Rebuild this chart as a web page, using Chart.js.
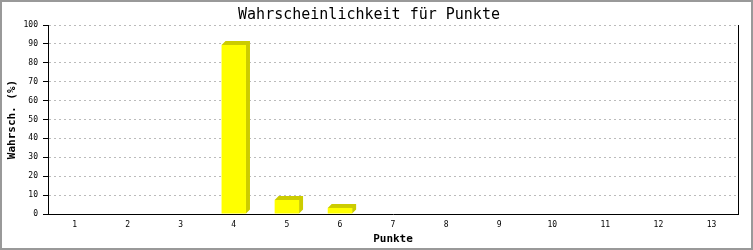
<!DOCTYPE html>
<html>
<head>
<meta charset="utf-8">
<script src="https://cdn.jsdelivr.net/npm/chart.js@4"></script>
<style>
  body { margin: 0; background: #fff; }
  canvas { display: block; }
</style>
</head>
<body>
<canvas id="punkteChart" width="753" height="250"></canvas>
<script>
// chart data
const punkte = ['1', '2', '3', '4', '5', '6', '7', '8', '9', '10', '11', '12', '13'];
const wahrscheinlichkeit = [0, 0, 0, 89.4, 7.4, 3.2, 0, 0, 0, 0, 0, 0, 0];
const yTicks = [0, 10, 20, 30, 40, 50, 60, 70, 80, 90, 100];

const mono = "'DejaVu Sans Mono', 'Liberation Mono', monospace";
const depth = 4;

// darker yellow side + top of the bars (fake 3d), drawn behind the bars
const barDepth = {
  id: 'barDepth',
  beforeDatasetsDraw(chart) {
    const ctx = chart.ctx;
    const meta = chart.getDatasetMeta(0);
    ctx.save();
    ctx.fillStyle = '#cccc00';
    meta.data.forEach(bar => {
      const { x, y, base, width } = bar.getProps(['x', 'y', 'base', 'width'], true);
      if (Math.abs(base - y) < 0.5) return;
      const left = x - width / 2;
      const right = x + width / 2;
      ctx.beginPath();
      ctx.moveTo(left, y);
      ctx.lineTo(left + depth, y - depth);
      ctx.lineTo(right + depth, y - depth);
      ctx.lineTo(right + depth, base - depth);
      ctx.lineTo(right, base);
      ctx.lineTo(right, y);
      ctx.closePath();
      ctx.fill();
    });
    ctx.restore();
  }
};

// right frame line and grey outer border
const frame = {
  id: 'frame',
  afterDraw(chart) {
    const { ctx, chartArea } = chart;
    ctx.save();
    ctx.strokeStyle = '#000';
    ctx.lineWidth = 1;
    ctx.beginPath();
    ctx.moveTo(Math.round(chartArea.right) + 0.5, chartArea.top);
    ctx.lineTo(Math.round(chartArea.right) + 0.5, chartArea.bottom);
    ctx.stroke();

    ctx.strokeStyle = '#999';
    ctx.lineWidth = 2;
    ctx.strokeRect(1, 1, chart.width - 2, chart.height - 2);
    ctx.restore();
  }
};

const ctx = document.getElementById('punkteChart').getContext('2d');
new Chart(ctx, {
  type: 'bar',
  data: {
    labels: punkte,
    datasets: [{
      label: 'Wahrscheinlichkeit',
      data: wahrscheinlichkeit,
      backgroundColor: '#ffff00',
      borderWidth: 0,
      barPercentage: 0.46,
      categoryPercentage: 1
    }]
  },
  options: {
    responsive: false,
    animation: false,
    devicePixelRatio: 1,
    layout: { padding: { left: 0, right: 15, top: 0, bottom: 0 } },
    plugins: {
      legend: { display: false },
      tooltip: { enabled: false },
      title: {
        display: true,
        text: 'Wahrscheinlichkeit für Punkte',
        color: '#000',
        font: { family: mono, size: 15, weight: 'normal', lineHeight: 1.2 },
        padding: { top: 6, bottom: 1 }
      }
    },
    scales: {
      x: {
        grid: { display: false, drawTicks: false },
        border: { display: true, color: '#000', width: 1 },
        ticks: { color: '#000', padding: 6, font: { family: mono, size: 8 }, maxRotation: 0 },
        title: {
          display: true,
          text: 'Punkte',
          color: '#000',
          font: { family: mono, size: 11, weight: 'bold', lineHeight: 1.2 },
          padding: { top: 0, bottom: 4 }
        },
        afterFit: scale => { scale.height = 36; }
      },
      y: {
        min: 0,
        max: 100,
        afterBuildTicks: scale => { scale.ticks = yTicks.map(v => ({ value: v })); },
        grid: {
          color: '#bbb',
          lineWidth: 1,
          drawTicks: true,
          tickLength: 5,
          tickColor: '#000',
          tickBorderDash: []
        },
        border: { display: true, color: '#000', width: 1, dash: [2, 3] },
        ticks: { color: '#000', padding: 5, font: { family: mono, size: 8 } },
        title: {
          display: true,
          text: 'Wahrsch. (%)',
          color: '#000',
          font: { family: mono, size: 11, weight: 'bold', lineHeight: 1.2 },
          padding: { top: 6, bottom: 0 }
        },
        afterFit: scale => { scale.width = 48; }
      }
    }
  },
  plugins: [barDepth, frame]
});
</script>
</body>
</html>
